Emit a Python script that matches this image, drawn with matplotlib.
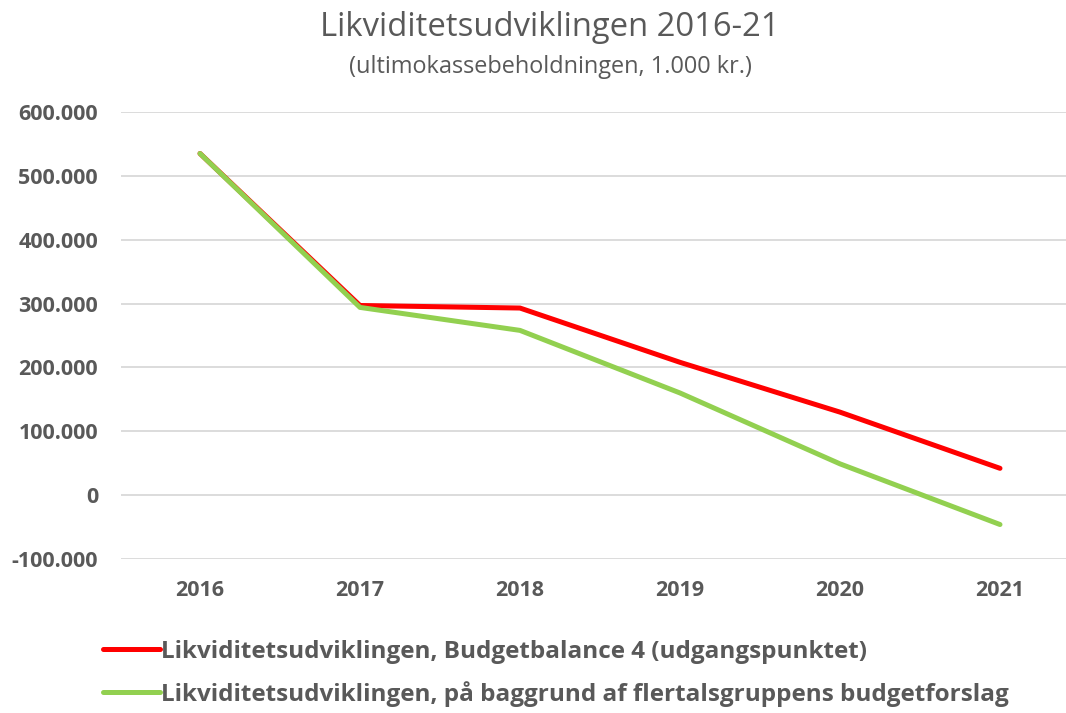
import numpy as np
import matplotlib
matplotlib.use('Agg')
import matplotlib.pyplot as plt
from matplotlib.ticker import FuncFormatter

years = ['2016', '2017', '2018', '2019', '2020', '2021']
budgetbalance = [535000, 297000, 293000, 208000, 130000, 42000]
flertal = [535000, 294000, 258000, 160000, 49000, -46000]
labels = ['Likviditetsudviklingen, Budgetbalance 4 (udgangspunktet)',
          'Likviditetsudviklingen, på baggrund af flertalsgruppens budgetforslag']
y_ticks = [-100000, 0, 100000, 200000, 300000, 400000, 500000, 600000]

plt.rcParams['font.family'] = ['Open Sans', 'DejaVu Sans']
grey = '#595959'

fig = plt.figure(figsize=(10.66, 7.13), dpi=100)
ax = fig.add_axes([121 / 1066, 1 - 559 / 713, 1 - 121 / 1066, (559 - 112) / 713])

x = np.arange(len(years))
ax.plot(x, budgetbalance, color='#FF0000', lw=3.6, solid_capstyle='round',
        solid_joinstyle='round', label=labels[0])
ax.plot(x, flertal, color='#92D050', lw=3.6, solid_capstyle='round',
        solid_joinstyle='round', label=labels[1])

# 160 px per category, first category 79 px from the left edge
ax.set_xlim(-79 / 160, -79 / 160 + 945 / 160)
ax.set_ylim(-100000, 600000)
ax.set_xticks(x)
ax.set_xticklabels(years)
ax.set_yticks(y_ticks)
ax.yaxis.set_major_formatter(FuncFormatter(lambda v, p: f'{int(v):,}'.replace(',', '.')))
ax.grid(axis='y', color='#D9D9D9', lw=1.3)
ax.set_axisbelow(True)
for s in ax.spines.values():
    s.set_visible(False)
ax.tick_params(length=0, labelcolor=grey)
ax.tick_params(axis='y', pad=16.5)
ax.tick_params(axis='x', pad=15)
for t in ax.get_xticklabels() + ax.get_yticklabels():
    t.set_fontweight('bold')
    t.set_fontsize(15.5)

fig.text(550 / 1066, 1 - 27 / 713, 'Likviditetsudviklingen 2016-21', ha='center',
         va='center', fontsize=23.6, color=grey)
fig.text(550 / 1066, 1 - 67 / 713, '(ultimokassebeholdningen, 1.000 kr.)', ha='center',
         va='center', fontsize=16.9, color=grey)

leg = fig.legend(loc='upper left', bbox_to_anchor=(103 / 1066, 1 - 640 / 713),
                 frameon=False, handlelength=2.35, handletextpad=0.05,
                 labelspacing=0.7, fontsize=17.5, borderaxespad=0, borderpad=0)
for t in leg.get_texts():
    t.set_color(grey)
    t.set_fontweight('bold')

fig.savefig('out.png', dpi=100)
